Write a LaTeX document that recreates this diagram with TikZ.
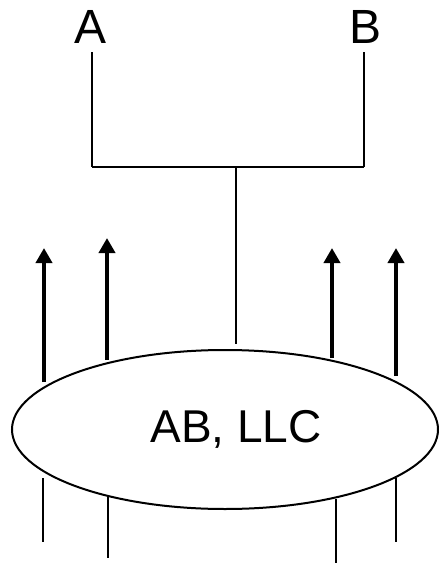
\documentclass[tikz,border=0pt]{standalone}
\usepackage{fontspec}
\setmainfont{Liberation Sans}
\usetikzlibrary{arrows.meta,shapes.geometric}
\begin{document}
\begin{tikzpicture}[x=1pt,y=-1pt,
  thinline/.style={line width=2pt},
  thickarrow/.style={line width=4pt,-{Triangle[length=15pt,width=16pt]}},
  lbl/.style={inner sep=0pt,font=\fontsize{48}{48}\selectfont},
  innerlbl/.style={inner sep=0pt,font=\fontsize{46}{46}\selectfont}]
\useasboundingbox (0,0) rectangle (439,563);
% top labels
\node[lbl,anchor=base] (A) at (91,43) {A};
\node[lbl,anchor=base] (B) at (366,43) {B};
% tree
\coordinate (a0) at (92,52);
\coordinate (a1) at (92,167);
\coordinate (b0) at (364,52);
\coordinate (b1) at (364,167);
\coordinate (c0) at (236,167);
\coordinate (c1) at (236,344);
\draw[thinline] (a0) -- (a1);
\draw[thinline] (b0) -- (b1);
\draw[thinline] (a1) -- (b1);
\draw[thinline] (c0) -- (c1);
% ellipse
\node[draw,ellipse,line width=2pt,minimum width=426pt,minimum height=159pt,inner sep=0pt] (llc) at (225,429.5) {};
\node[innerlbl] (llctext) at (236,429) {AB, LLC};
% arrows
\coordinate (u1s) at (44,382); \coordinate (u1e) at (44,248);
\coordinate (u2s) at (107,360); \coordinate (u2e) at (107,238);
\coordinate (u3s) at (332,358); \coordinate (u3e) at (332,248);
\coordinate (u4s) at (396,376); \coordinate (u4e) at (396,248);
\draw[thickarrow] (u1s) -- (u1e);
\draw[thickarrow] (u2s) -- (u2e);
\draw[thickarrow] (u3s) -- (u3e);
\draw[thickarrow] (u4s) -- (u4e);
% bottom lines
\coordinate (d1s) at (43,478); \coordinate (d1e) at (43,542);
\coordinate (d2s) at (108,495); \coordinate (d2e) at (108,558);
\coordinate (d3s) at (336,499); \coordinate (d3e) at (336,565);
\coordinate (d4s) at (396,478); \coordinate (d4e) at (396,542);
\draw[thinline] (d1s) -- (d1e);
\draw[thinline] (d2s) -- (d2e);
\draw[thinline] (d3s) -- (d3e);
\draw[thinline] (d4s) -- (d4e);
\end{tikzpicture}
\end{document}
